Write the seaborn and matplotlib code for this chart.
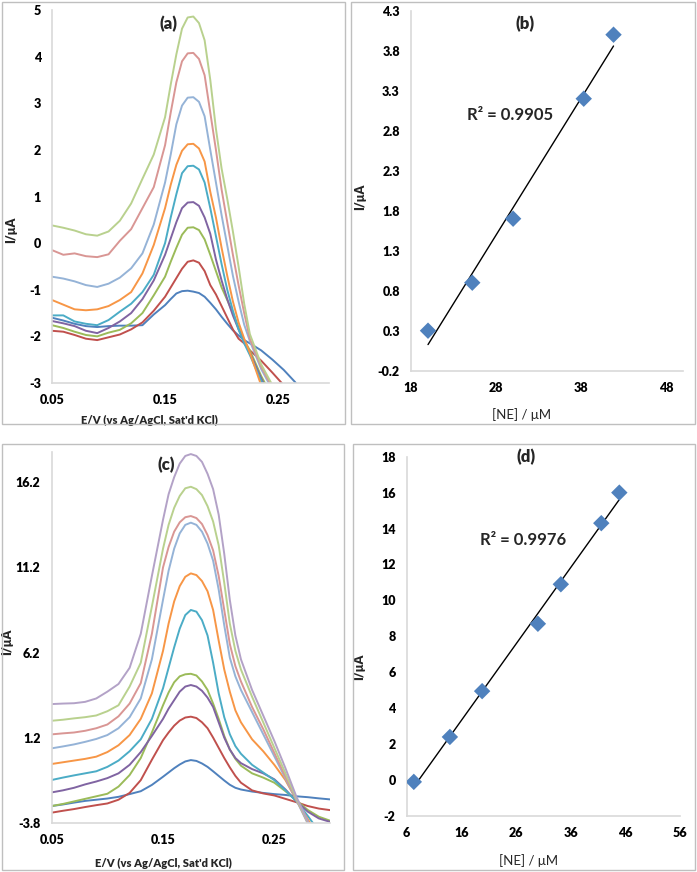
import numpy as np
import pandas as pd
import seaborn as sns
from matplotlib import pyplot as plt
from matplotlib.patches import Rectangle

# ---------------- panel (a): DPV curves ----------------
potential_a = [0.05, 0.06, 0.07, 0.08, 0.09, 0.10, 0.11, 0.12, 0.13, 0.14, 0.15, 0.155, 0.16, 0.165,
               0.17, 0.175, 0.18, 0.185, 0.19, 0.195, 0.20, 0.205, 0.21, 0.215, 0.22, 0.225,
               0.235, 0.245, 0.255, 0.265, 0.275]
a_blue = [-1.6, -1.66, -1.73, -1.78, -1.8, -1.78, -1.77, -1.77, -1.76, -1.53, -1.33, -1.2, -1.08, -1.03,
          -1.02, -1.04, -1.07, -1.15, -1.28, -1.42, -1.58, -1.73, -1.87, -1.98, -2.08, -2.15,
          -2.3, -2.5, -2.72, -2.98, -3.3]
a_red = [-1.88, -1.9, -1.97, -2.05, -2.08, -2.02, -1.96, -1.85, -1.7, -1.45, -1.15, -0.95, -0.75, -0.55,
         -0.4, -0.37, -0.42, -0.6, -0.9, -1.1, -1.35, -1.6, -1.85, -2.05, -2.15, -2.3,
         -2.52, -2.78, -3.05, -3.4, -3.8]
a_green = [-1.76, -1.82, -1.9, -1.97, -2.0, -1.92, -1.86, -1.72, -1.5, -1.12, -0.72, -0.4, -0.1, 0.18,
           0.33, 0.34, 0.28, 0.08, -0.25, -0.6, -0.95, -1.22, -1.5, -1.8, -2.08, -2.3,
           -2.85, -3.3, -3.7, -4.1, -4.5]
a_purple = [-1.67, -1.72, -1.78, -1.88, -1.93, -1.82, -1.68, -1.5, -1.2, -0.8, -0.25, 0.1, 0.45, 0.75,
            0.87, 0.88, 0.8, 0.55, 0.2, -0.35, -0.8, -1.2, -1.55, -1.85, -2.1, -2.35,
            -2.9, -3.4, -3.8, -4.2, -4.6]
a_teal = [-1.55, -1.55, -1.68, -1.73, -1.76, -1.65, -1.47, -1.3, -1.05, -0.68, 0.0, 0.55, 1.05, 1.5,
          1.65, 1.66, 1.58, 1.3, 0.75, 0.15, -0.45, -1.0, -1.45, -1.85, -2.15, -2.4,
          -2.95, -3.4, -3.8, -4.2, -4.6]
a_orange = [-1.22, -1.32, -1.42, -1.44, -1.42, -1.35, -1.22, -1.05, -0.65, -0.04, 0.75, 1.25, 1.68, 1.98,
            2.12, 2.13, 2.03, 1.75, 1.1, 0.55, -0.1, -0.7, -1.25, -1.7, -2.05, -2.35,
            -3.05, -3.5, -3.9, -4.3, -4.7]
a_lblue = [-0.72, -0.76, -0.82, -0.9, -0.94, -0.87, -0.74, -0.54, -0.22, 0.4, 1.3, 1.9, 2.55, 2.95,
           3.12, 3.13, 3.03, 2.72, 2.0, 1.3, 0.6, -0.05, -0.7, -1.25, -1.75, -2.1,
           -2.7, -3.15, -3.6, -4.0, -4.4]
a_lred = [-0.15, -0.25, -0.22, -0.28, -0.3, -0.24, 0.05, 0.3, 0.75, 1.2, 2.1, 2.8, 3.45, 3.9,
          4.07, 4.08, 3.95, 3.6, 2.8, 2.0, 1.15, 0.45, -0.25, -0.9, -1.5, -2.05,
          -2.65, -3.1, -3.5, -3.9, -4.3]
a_lgreen = [0.38, 0.33, 0.27, 0.19, 0.16, 0.25, 0.48, 0.85, 1.38, 1.9, 2.7, 3.4, 4.05, 4.6,
            4.84, 4.86, 4.72, 4.35, 3.5, 2.45, 1.6, 0.95, 0.25, -0.5, -1.3, -1.95,
            -2.6, -3.05, -3.5, -3.9, -4.3]

# ---------------- panel (c): DPV curves ----------------
potential_c = [0.05, 0.06, 0.07, 0.08, 0.09, 0.10, 0.11, 0.12, 0.13, 0.14, 0.15, 0.155, 0.16, 0.165,
               0.17, 0.175, 0.18, 0.185, 0.19, 0.195, 0.20, 0.205, 0.21, 0.215, 0.22,
               0.23, 0.24, 0.25, 0.26, 0.27, 0.28, 0.29, 0.30]
c_blue = [-2.82, -2.73, -2.62, -2.52, -2.45, -2.38, -2.28, -2.12, -1.95, -1.58, -1.1, -0.85, -0.6, -0.38,
          -0.2, -0.12, -0.17, -0.32, -0.52, -0.78, -1.05, -1.32, -1.57, -1.75, -1.85,
          -1.97, -2.05, -2.12, -2.17, -2.25, -2.3, -2.37, -2.43]
c_red = [-3.21, -3.1, -3.0, -2.88, -2.77, -2.67, -2.45, -2.05, -1.3, -0.1, 1.05, 1.5, 1.9, 2.2,
         2.38, 2.43, 2.35, 2.1, 1.75, 1.2, 0.6, 0.0, -0.55, -1.05, -1.45,
         -1.9, -2.08, -2.2, -2.4, -2.6, -2.82, -2.97, -3.06]
c_green = [-2.82, -2.7, -2.55, -2.4, -2.25, -2.1, -1.68, -1.0, 0.0, 1.5, 3.1, 3.85, 4.45, 4.8,
           4.92, 4.95, 4.85, 4.5, 4.0, 3.2, 2.3, 1.3, 0.5, -0.05, -0.45,
           -0.9, -1.15, -1.45, -1.95, -2.5, -3.05, -3.45, -3.68]
c_purple = [-2.02, -1.9, -1.75, -1.55, -1.38, -1.18, -0.9, -0.4, 0.35, 1.3, 2.3, 2.9, 3.4, 3.9,
            4.2, 4.29, 4.2, 3.95, 3.55, 3.0, 2.1, 1.2, 0.5, 0.0, -0.3,
            -0.65, -0.9, -1.25, -1.85, -2.55, -3.15, -3.55, -3.75]
c_teal = [-1.29, -1.15, -1.02, -0.9, -0.78, -0.52, -0.15, 0.4, 1.1, 2.3, 4.1, 5.3, 6.5, 7.6,
          8.4, 8.7, 8.6, 8.1, 7.2, 5.6, 3.8, 2.4, 1.4, 0.7, 0.25,
          -0.4, -0.85, -1.3, -1.9, -2.55, -3.4, -4.3, -5.0]
c_orange = [-0.35, -0.25, -0.15, -0.05, 0.08, 0.35, 0.75, 1.35, 2.3, 3.8, 6.3, 7.9, 9.2, 10.1,
            10.65, 10.85, 10.75, 10.4, 9.8, 8.7, 6.9, 5.2, 3.9, 2.8, 2.1,
            1.1, 0.4, -0.4, -1.3, -2.5, -3.6, -4.6, -5.5]
c_lblue = [0.57, 0.68, 0.8, 0.95, 1.12, 1.35, 1.75, 2.4, 3.5, 5.8, 9.3, 11.0, 12.3, 13.2,
           13.7, 13.83, 13.7, 13.3, 12.6, 11.6, 9.9, 7.8, 5.9, 4.8, 4.0,
           2.7, 1.4, 0.1, -1.2, -2.5, -3.85, -5.0, -6.0]
c_lred = [1.39, 1.45, 1.5, 1.6, 1.75, 1.97, 2.45, 3.2, 4.4, 7.3, 11.2, 12.4, 13.3, 13.85,
          14.15, 14.22, 14.1, 13.75, 13.1, 12.2, 10.7, 8.7, 6.7, 5.4, 4.5,
          3.0, 1.7, 0.3, -1.1, -2.45, -3.8, -5.0, -6.0]
c_lgreen = [2.19, 2.25, 2.33, 2.4, 2.5, 2.75, 3.1, 4.2, 5.6, 8.9, 12.3, 13.7, 14.7, 15.4,
            15.85, 15.94, 15.8, 15.45, 14.8, 13.9, 12.5, 10.3, 7.9, 6.3, 5.2,
            3.6, 2.1, 0.6, -0.9, -2.4, -3.75, -5.0, -6.0]
c_lpurple = [3.17, 3.2, 3.22, 3.3, 3.5, 3.9, 4.35, 5.3, 7.3, 10.7, 14.0, 15.5, 16.5, 17.3,
             17.75, 17.86, 17.75, 17.4, 16.7, 15.8, 14.3, 12.0, 9.3, 7.2, 5.8,
             4.0, 2.5, 1.0, -0.6, -2.3, -3.7, -5.0, -6.0]

# ---------------- calibration plots (b) and (d) ----------------
conc_b = [20.0, 25.2, 30.0, 38.3, 41.8]
current_b = [0.3, 0.9, 1.7, 3.2, 4.0]
conc_d = [7.3, 13.9, 19.8, 30.0, 34.2, 41.6, 44.9]
current_d = [-0.1, 2.4, 4.95, 8.7, 10.9, 14.3, 16.0]

colors = {'blue': '#4F81BD', 'red': '#C0504D', 'green': '#9BBB59', 'purple': '#8064A2',
          'teal': '#4BACC6', 'orange': '#F79646', 'lblue': '#95B3D7', 'lred': '#D99694',
          'lgreen': '#B9D18E', 'lpurple': '#B3A2C7'}

W, H = 697, 872
sns.set_style("white")
plt.rcParams['font.family'] = ['Lato', 'DejaVu Sans']
WEIGHT = 'heavy'

fig = plt.figure(figsize=(W / 100, H / 100), dpi=100)


def px_axes(left, top, right, bottom):
    return fig.add_axes([left / W, 1 - bottom / H, (right - left) / W, (bottom - top) / H])


def long_frame(potential, curves):
    rows = []
    for name, vals in curves.items():
        rows.append(pd.DataFrame({'E': potential, 'I': vals, 'series': name}))
    return pd.concat(rows, ignore_index=True)


def dress(ax, xticks, yticks, xfmt, yfmt):
    sns.despine(ax=ax)
    for s in ['left', 'bottom']:
        ax.spines[s].set_color('#D9D9D9')
        ax.spines[s].set_linewidth(1.2)
    ax.set_xticks(xticks)
    ax.set_yticks(yticks)
    ax.set_xticklabels([xfmt.format(t) for t in xticks], fontweight=WEIGHT)
    ax.set_yticklabels([yfmt.format(t) for t in yticks], fontweight=WEIGHT)
    ax.tick_params(length=0, labelsize=9, pad=8, colors='black')
    ax.grid(False)


# frames round each panel
for (l, t, r, b) in [(2, 2, 345, 424), (351, 2, 695, 424), (2, 444, 344, 870), (353, 444, 695, 870)]:
    fig.add_artist(Rectangle((l / W, 1 - b / H), (r - l) / W, (b - t) / H, transform=fig.transFigure,
                             fill=False, edgecolor='#BFBFBF', lw=1))

# (a)
ax_a = px_axes(52, 10, 329, 383)
df_a = long_frame(potential_a, {'blue': a_blue, 'red': a_red, 'green': a_green, 'purple': a_purple,
                                'teal': a_teal, 'orange': a_orange, 'lblue': a_lblue, 'lred': a_lred,
                                'lgreen': a_lgreen})
sns.lineplot(data=df_a, x='E', y='I', hue='series', palette=colors, estimator=None, sort=False,
             legend=False, lw=1.4, ax=ax_a)
ax_a.set_xlim(0.05, 0.295)
ax_a.set_ylim(-3, 5)
dress(ax_a, [0.05, 0.15, 0.25], list(range(-3, 6)), '{:.2f}', '{:d}')
ax_a.set_xlabel("E/V (vs Ag/AgCl, Sat'd KCl)", fontsize=8, fontweight=WEIGHT)
ax_a.set_ylabel('I/μA', fontsize=9, fontweight=WEIGHT)
ax_a.xaxis.set_label_coords(0.35, -0.086)
ax_a.yaxis.set_label_coords(-0.126, 0.41)
ax_a.text(0.42, 0.985, '(a)', transform=ax_a.transAxes, ha='center', va='top', fontsize=12, fontweight=WEIGHT)

# (b)
ax_b = px_axes(411, 10.7, 683.3, 370.7)
sns.regplot(x=conc_b, y=current_b, scatter=False, ci=None, truncate=True, color='black',
            line_kws={'lw': 1}, ax=ax_b)
sns.scatterplot(x=conc_b, y=current_b, marker='D', s=70, color='#4F81BD', edgecolor='none', ax=ax_b, zorder=3)
ax_b.set_xlim(18, 50)
ax_b.set_ylim(-0.2, 4.3)
dress(ax_b, [18, 28, 38, 48], [round(-0.2 + 0.5 * i, 1) for i in range(10)], '{:d}', '{:.1f}')
ax_b.set_xlabel('[NE] / μM', fontsize=9.5)
ax_b.set_ylabel('I/μA', fontsize=9, fontweight=WEIGHT)
ax_b.xaxis.set_label_coords(0.406, -0.105)
ax_b.yaxis.set_label_coords(-0.163, 0.483)
ax_b.text(29.6, 3.0, 'R² = 0.9905', ha='center', va='center', fontsize=12, fontweight='bold')
ax_b.text(0.42, 0.985, '(b)', transform=ax_b.transAxes, ha='center', va='top', fontsize=12, fontweight=WEIGHT)

# (c)
ax_c = px_axes(51.7, 451.7, 330, 822.7)
df_c = long_frame(potential_c, {'blue': c_blue, 'red': c_red, 'green': c_green, 'purple': c_purple,
                                'teal': c_teal, 'orange': c_orange, 'lblue': c_lblue, 'lred': c_lred,
                                'lgreen': c_lgreen, 'lpurple': c_lpurple})
sns.lineplot(data=df_c, x='E', y='I', hue='series', palette=colors, estimator=None, sort=False,
             legend=False, lw=1.4, ax=ax_c)
ax_c.set_xlim(0.05, 0.30)
ax_c.set_ylim(-3.8, 18.0)
dress(ax_c, [0.05, 0.15, 0.25], [-3.8, 1.2, 6.2, 11.2, 16.2], '{:.2f}', '{:.1f}')
ax_c.set_xlabel("E/V (vs Ag/AgCl, Sat'd KCl)", fontsize=8, fontweight=WEIGHT)
ax_c.set_ylabel('I/μA', fontsize=9, fontweight=WEIGHT)
ax_c.xaxis.set_label_coords(0.401, -0.096)
ax_c.yaxis.set_label_coords(-0.138, 0.488)
ax_c.text(0.41, 0.985, '(c)', transform=ax_c.transAxes, ha='center', va='top', fontsize=12, fontweight=WEIGHT)

# (d)
ax_d = px_axes(406.7, 456.7, 680, 816)
sns.regplot(x=conc_d, y=current_d, scatter=False, ci=None, truncate=True, color='black',
            line_kws={'lw': 1}, ax=ax_d)
sns.scatterplot(x=conc_d, y=current_d, marker='D', s=70, color='#4F81BD', edgecolor='none', ax=ax_d, zorder=3)
ax_d.set_xlim(6, 56)
ax_d.set_ylim(-2, 18)
dress(ax_d, [6, 16, 26, 36, 46, 56], list(range(-2, 19, 2)), '{:d}', '{:d}')
ax_d.set_xlabel('[NE] / μM', fontsize=9.5)
ax_d.set_ylabel('I/μA', fontsize=9, fontweight=WEIGHT)
ax_d.xaxis.set_label_coords(0.445, -0.105)
ax_d.yaxis.set_label_coords(-0.153, 0.4155)
ax_d.text(27.3, 13.36, 'R² = 0.9976', ha='center', va='center', fontsize=12, fontweight='bold')
ax_d.text(0.435, 1.0, '(d)', transform=ax_d.transAxes, ha='center', va='center', fontsize=12, fontweight=WEIGHT)

fig.savefig('out.png', dpi=100, facecolor='white')
